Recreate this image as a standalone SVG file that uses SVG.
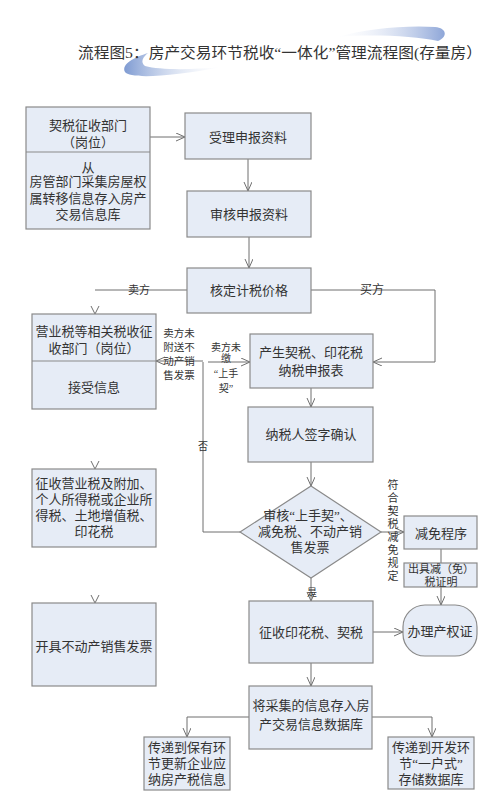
<svg xmlns="http://www.w3.org/2000/svg" width="500" height="812" viewBox="0 0 500 812">
<defs>
<style>
.t{font-family:"Liberation Serif","Noto Sans CJK SC",serif;fill:#333;text-anchor:middle;dominant-baseline:central}
.f13{font-size:13px}
.f11{font-size:11px}
.f10{font-size:10px}
.box{fill:#e6ecf6;stroke:#8a8a8a;stroke-width:1.2}
.ln{fill:none;stroke:#6f6f6f;stroke-width:1}
.ar{fill:none;stroke:#6f6f6f;stroke-width:1;marker-end:url(#arr)}
</style>
<marker id="arr" markerUnits="userSpaceOnUse" markerWidth="10" markerHeight="10" refX="9" refY="4" orient="auto">
<path d="M0,0 L9,4 L0,8" fill="none" stroke="#6f6f6f" stroke-width="1"/>
</marker>
<linearGradient id="sw1" x1="0" y1="0" x2="1" y2="0">
<stop offset="0" stop-color="#7f9bd2"/>
<stop offset="1" stop-color="#ffffff" stop-opacity="0.2"/>
</linearGradient>
<linearGradient id="sw2" x1="1" y1="0" x2="0" y2="0">
<stop offset="0" stop-color="#8ea6d8"/>
<stop offset="1" stop-color="#ffffff" stop-opacity="0.2"/>
</linearGradient>
</defs>
<rect width="500" height="812" fill="#ffffff"/>

<g id="title">
<path d="M337,37 C365,29 405,25 435,27 C447,28 448,37 438,41 C415,36 370,34 337,37 Z" fill="url(#sw2)"/>
<path d="M148,53 C135,57 121,64 125,72 C130,79 170,77 222,67 C190,70 160,70 145,66 C140,62 143,57 148,53 Z" fill="url(#sw1)"/>
<text x="78" y="53" style="font-family:'Liberation Serif','Noto Sans CJK SC',serif;font-size:15px;fill:#333;dominant-baseline:central" textLength="404" lengthAdjust="spacingAndGlyphs">流程图5：房产交易环节税收“一体化”管理流程图(存量房）</text>
</g>

<g id="connectors">
<path class="ar" d="M150,137 H185"/>
<path class="ar" d="M248,159 V191"/>
<path class="ar" d="M249,237 V268"/>
<path class="ln" d="M187,290 H95"/>
<path class="ln" d="M91,306 L95,314 L99,306"/>
<path class="ar" d="M311,290 H435 V362 H373"/>
<path class="ar" d="M311,388 V407"/>
<path class="ar" d="M311,462 V486"/>
<path class="ln" d="M240,532 H203 V362"/>
<path class="ar" d="M208,362 H250"/>
<path class="ar" d="M203,361 H156"/>
<path class="ar" d="M381,532 H404"/>
<path class="ln" d="M441,549 V563"/>
<path class="ar" d="M441,587 V605"/>
<path class="ar" d="M311,578 V601"/>
<path class="ar" d="M373,632 H403"/>
<path class="ar" d="M311,663 V686"/>
<path class="ar" d="M249,717 H187 V737"/>
<path class="ar" d="M372,717 H432 V737"/>
<path class="ln" d="M91,461 L95,469 L99,461"/>
<path class="ln" d="M91,595 L95,603 L99,595"/>
<text class="t f11" x="139" y="290">卖方</text>
<text class="t" style="font-size:12px" x="372" y="290">买方</text>
<g class="t" style="font-size:10.5px">
<text class="t" style="font-size:10.5px" x="179" y="333">卖方未</text>
<text class="t" style="font-size:10.5px" x="179" y="347">附送不</text>
<text class="t" style="font-size:10.5px" x="179" y="361">动产销</text>
<text class="t" style="font-size:10.5px" x="179" y="375">售发票</text>
</g>
<text class="t f10" x="226" y="347">卖方未</text>
<text class="t f10" x="226" y="358">缴</text>
<text class="t f10" x="226" y="373">“上手</text>
<text class="t f10" x="226" y="388">契”</text>
<text class="t f10" x="203" y="446">否</text>
<text class="t f10" x="312" y="592">是</text>
<text class="t f11" x="393" y="485">符</text>
<text class="t f11" x="393" y="498">合</text>
<text class="t f11" x="393" y="511">契</text>
<text class="t f11" x="393" y="524">税</text>
<text class="t f11" x="393" y="537">减</text>
<text class="t f11" x="393" y="550">免</text>
<text class="t f11" x="393" y="563">规</text>
<text class="t f11" x="393" y="576">定</text>
</g>

<g id="node-qishui-dept">
<rect class="box" x="26" y="107" width="124" height="122"/>
<line x1="26" y1="152" x2="150" y2="152" stroke="#8a8a8a" stroke-width="1.2"/>
<text class="t f13" x="88" y="125">契税征收部门</text>
<text class="t f13" x="88" y="142">（岗位）</text>
<text class="t f13" x="88" y="167">从</text>
<text class="t f13" x="88" y="181">房管部门采集房屋权</text>
<text class="t f13" x="88" y="198">属转移信息存入房产</text>
<text class="t f13" x="88" y="214">交易信息库</text>
</g>

<g id="node-accept">
<rect class="box" x="185" y="113" width="126" height="46"/>
<text class="t f13" x="248" y="137">受理申报资料</text>
</g>

<g id="node-review">
<rect class="box" x="187" y="191" width="124" height="46"/>
<text class="t f13" x="249" y="214">审核申报资料</text>
</g>

<g id="node-price">
<rect class="box" x="187" y="268" width="124" height="45"/>
<text class="t f13" x="249" y="290">核定计税价格</text>
</g>

<g id="node-yingye-dept">
<rect class="box" x="32" y="314" width="124" height="95"/>
<line x1="32" y1="361" x2="156" y2="361" stroke="#8a8a8a" stroke-width="1.2"/>
<text class="t f13" x="94" y="331">营业税等相关税收征</text>
<text class="t f13" x="94" y="348">收部门（岗位）</text>
<text class="t f13" x="94" y="387">接受信息</text>
</g>

<g id="node-declare">
<rect class="box" x="250" y="334" width="123" height="54"/>
<text class="t f13" x="311" y="352">产生契税、印花税</text>
<text class="t f13" x="311" y="370">纳税申报表</text>
</g>

<g id="node-sign">
<rect class="box" x="248" y="407" width="125" height="55"/>
<text class="t f13" x="311" y="434">纳税人签字确认</text>
</g>

<g id="node-check">
<polygon class="box" points="311,486 381,532 311,578 240,532"/>
<text class="t f13" x="308" y="515">审核“上手契”、</text>
<text class="t f13" x="310" y="531">减免税、不动产销</text>
<text class="t f13" x="310" y="547">售发票</text>
</g>

<g id="node-relief">
<rect class="box" x="404" y="516" width="73" height="33"/>
<text class="t f13" x="441" y="533">减免程序</text>
</g>

<g id="node-cert">
<rect class="box" x="404" y="563" width="73" height="24"/>
<text class="t f11" x="441" y="569">出具减（免）</text>
<text class="t f11" x="441" y="582">税证明</text>
</g>

<g id="node-property">
<rect class="box" x="403" y="605" width="74" height="51" rx="22" ry="22"/>
<text class="t f13" x="440" y="631">办理产权证</text>
</g>

<g id="node-collect">
<rect class="box" x="249" y="601" width="124" height="62"/>
<text class="t f13" x="311" y="632">征收印花税、契税</text>
</g>

<g id="node-store">
<rect class="box" x="249" y="686" width="123" height="63"/>
<text class="t f13" x="311" y="705">将采集的信息存入房</text>
<text class="t f13" x="311" y="724">产交易信息数据库</text>
</g>

<g id="node-hold">
<rect class="box" x="144" y="737" width="86" height="53"/>
<text class="t f13" x="187" y="747">传递到保有环</text>
<text class="t f13" x="187" y="763">节更新企业应</text>
<text class="t f13" x="187" y="779">纳房产税信息</text>
</g>

<g id="node-dev">
<rect class="box" x="388" y="737" width="86" height="52"/>
<text class="t f13" x="431" y="747">传递到开发环</text>
<text class="t f13" x="431" y="763">节“一户式”</text>
<text class="t f13" x="431" y="779">存储数据库</text>
</g>

<g id="node-levy">
<rect class="box" x="32" y="469" width="124" height="78"/>
<text class="t f13" x="94" y="483">征收营业税及附加、</text>
<text class="t f13" x="94" y="499">个人所得税或企业所</text>
<text class="t f13" x="94" y="515">得税、土地增值税、</text>
<text class="t f13" x="94" y="531">印花税</text>
</g>

<g id="node-invoice">
<rect class="box" x="32" y="603" width="124" height="83"/>
<text class="t f13" x="94" y="646">开具不动产销售发票</text>
</g>
</svg>
